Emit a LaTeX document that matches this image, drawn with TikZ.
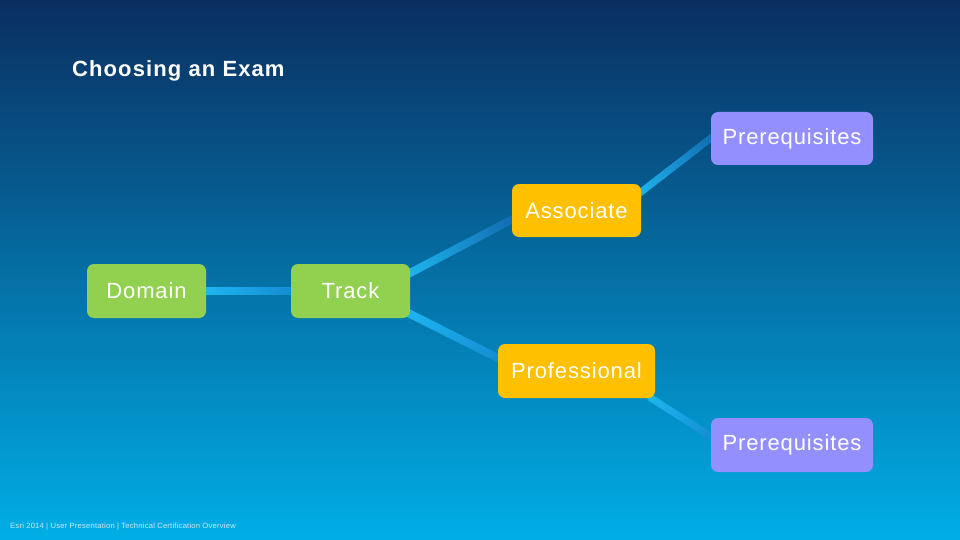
\documentclass[tikz,border=0pt]{standalone}
\usepackage{fontspec}
\setmainfont{Liberation Sans}
\newfontfamily\boxfont[LetterSpace=4]{Liberation Sans}
\newfontfamily\titlefont[LetterSpace=5]{Liberation Sans}
\newfontfamily\footfont[LetterSpace=3]{Liberation Sans}
\usetikzlibrary{calc,backgrounds}
\definecolor{bgtop}{RGB}{10,46,96}
\definecolor{bgmid}{RGB}{0,100,170}
\definecolor{bgbot}{RGB}{0,174,230}
\definecolor{boxgreen}{RGB}{146,208,80}
\definecolor{boxyellow}{RGB}{255,192,0}
\definecolor{boxpurple}{RGB}{148,143,255}
\definecolor{lnlight}{RGB}{30,182,240}
\definecolor{lnmid}{RGB}{20,140,210}
\definecolor{lndark}{RGB}{18,105,175}
\definecolor{footc}{RGB}{205,235,250}
\newcommand{\gline}[5]{%
  \foreach \i in {0,...,29}{%
    \pgfmathsetmacro{\ta}{\i/30}%
    \pgfmathsetmacro{\tb}{(\i+1.1)/30}%
    \pgfmathsetmacro{\pc}{100-\i*100/29}%
    \draw[line width=#5, color=#3!\pc!#4] ($(#1)!\ta!(#2)$) -- ($(#1)!\tb!(#2)$);
  }}
\tikzset{
  box/.style={rounded corners=7pt, text=white, font=\boxfont\fontsize{22}{26}\selectfont,
    minimum height=53pt, inner sep=0pt, align=center},
}
\begin{document}
\begin{tikzpicture}[x=1pt,y=-1pt]
\begin{pgfonlayer}{background}
\shade[top color=bgtop, middle color=bgmid, bottom color=bgbot] (0,0) rectangle (960,540);
\end{pgfonlayer}
\useasboundingbox (0,0) rectangle (960,540);

\node[anchor=base west, inner sep=0pt, text=white, font=\titlefont\bfseries\fontsize{22}{26}\selectfont] (title) at (72,77) {Choosing an Exam};

\node[box, fill=boxgreen, minimum width=119pt, minimum height=54pt] (domain) at (146.5,291) {Domain};
\node[box, fill=boxgreen, minimum width=119pt, minimum height=54pt] (track) at (350.5,291) {Track};
\node[box, fill=boxyellow, minimum width=129pt] (assoc) at (576.5,210.5) {Associate};
\node[box, fill=boxyellow, minimum width=157pt, minimum height=54pt] (prof) at (576.5,371) {Professional};
\node[box, fill=boxpurple, minimum width=162pt] (pre1) at (792,138.5) {Prerequisites};
\node[box, fill=boxpurple, minimum width=162pt, minimum height=54pt] (pre2) at (792,445) {Prerequisites};

\node[anchor=base west, inner sep=0pt, text=footc, font=\footfont\fontsize{7.6}{9}\selectfont] (foot) at (10,528) {Esri 2014 | User Presentation | Technical Certification Overview};

\coordinate (a1) at ($(domain.east)+(-4,0)$);
\coordinate (a2) at ($(track.west)+(4,0)$);
\coordinate (b1) at ($(track.east)+(-6,-15)$);
\coordinate (b2) at ($(assoc.west)+(6,6)$);
\coordinate (c1) at ($(track.east)+(-6,20)$);
\coordinate (c2) at ($(prof.west)+(6,-10)$);
\coordinate (d1) at ($(assoc.east)+(-6,-14)$);
\coordinate (d2) at ($(pre1.west)+(6,-5)$);
\coordinate (e1) at ($(prof.east)+(-6,26)$);
\coordinate (e2) at ($(pre2.west)+(6,-5)$);

\begin{pgfonlayer}{background}
\gline{a1}{a2}{lnlight}{lnmid}{8pt}
\gline{b1}{b2}{lnlight}{lndark}{8pt}
\gline{c1}{c2}{lnlight}{lnmid}{8pt}
\gline{d1}{d2}{lnlight}{lndark}{7pt}
\gline{e1}{e2}{lnlight}{lnmid}{7pt}
\end{pgfonlayer}
\end{tikzpicture}
\end{document}
